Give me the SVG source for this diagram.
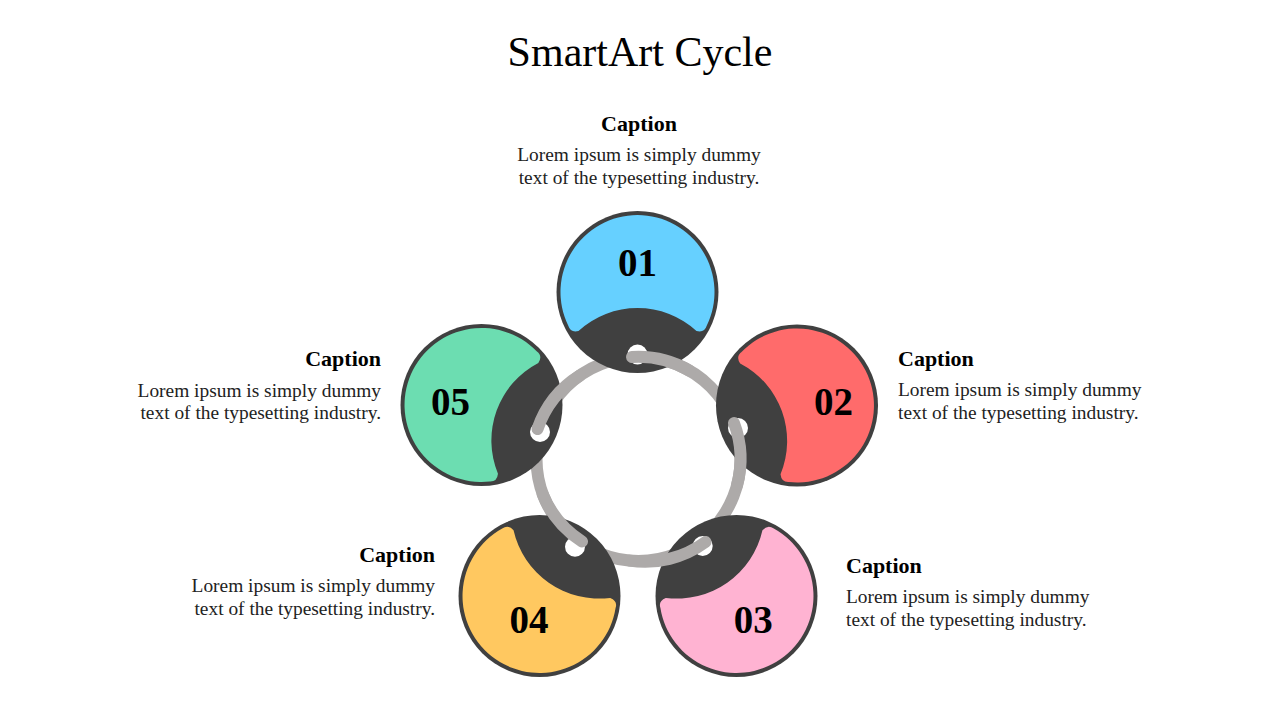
<svg xmlns="http://www.w3.org/2000/svg" width="1280" height="720" viewBox="0 0 1280 720">
<style>
.title{font-family:"Liberation Serif","Times New Roman",serif;font-size:42px;fill:#000}
.cap{font-family:"Liberation Serif","Times New Roman",serif;font-size:22px;font-weight:bold;fill:#000}
.body{font-family:"Liberation Serif","Times New Roman",serif;font-size:19.4px;fill:#222}
.num{font-family:"Liberation Serif","Times New Roman",serif;font-size:39px;font-weight:bold;fill:#000;text-anchor:middle}
.rim{fill:#404040}
.hole{fill:#fff}
.ring{fill:none;stroke:#ADAAA9;stroke-width:12;stroke-linecap:round}
</style>
<defs>
<path id="face" d="M -69.2 33.8 A 77 77 0 1 1 69.2 33.8 Q 67 41 59 39 A 87.5 87.5 0 0 0 -59 39 Q -67 41 -69.2 33.8 Z"/>
</defs>
<rect width="1280" height="720" fill="#fff"/>
<text class="title" x="640" y="66" text-anchor="middle">SmartArt Cycle</text>

<g id="connectors-under">
<circle class="ring" cx="638.5" cy="459" r="102"/>
</g>

<g id="node-01">
<circle class="rim" cx="637.5" cy="292" r="81"/>
<use href="#face" fill="#66D0FF" transform="translate(637.5 292)"/>
<circle class="hole" cx="637.5" cy="354.5" r="10"/>
<text class="num" x="637.5" y="276">01</text>
</g>
<g id="node-02">
<circle class="rim" cx="797" cy="405.5" r="81"/>
<use href="#face" fill="#FF6B6B" transform="translate(797 405.5) rotate(70)"/>
<circle class="hole" cx="738" cy="428" r="10"/>
<text class="num" x="833.5" y="415">02</text>
</g>
<g id="node-03">
<circle class="rim" cx="736.5" cy="596" r="81"/>
<use href="#face" fill="#FFB3D2" transform="translate(736.5 596) rotate(145)"/>
<circle class="hole" cx="702.7" cy="546" r="10"/>
<text class="num" x="753.3" y="633">03</text>
</g>
<g id="node-04">
<circle class="rim" cx="539.5" cy="596" r="81"/>
<use href="#face" fill="#FFC860" transform="translate(539.5 596) rotate(215)"/>
<circle class="hole" cx="575" cy="546.7" r="10"/>
<text class="num" x="529" y="633">04</text>
</g>
<g id="node-05">
<circle class="rim" cx="481.5" cy="405" r="81"/>
<use href="#face" fill="#6CDDB1" transform="translate(481.5 405) rotate(290)"/>
<circle class="hole" cx="540" cy="432" r="10"/>
<text class="num" x="450.5" y="415">05</text>
</g>

<g id="connectors-over">
<path class="ring" d="M 632 357 A 102 102 0 0 1 689.5 370.7"/>
<path class="ring" d="M 734 423 A 102 102 0 0 1 737 485.4"/>
<path class="ring" d="M 705.5 542 A 102 102 0 0 1 629.6 560.6"/>
<path class="ring" d="M 542.6 493.9 A 102 102 0 0 0 582 541.5"/>
<path class="ring" d="M 537.5 429 A 102 102 0 0 1 580 375.4"/>
</g>

<g id="caption-01">
<text class="cap" x="639" y="131" text-anchor="middle">Caption</text>
<text class="body" x="639" y="160.5" text-anchor="middle">Lorem ipsum is simply dummy</text>
<text class="body" x="639" y="184" text-anchor="middle">text of the typesetting industry.</text>
</g>
<g id="caption-02">
<text class="cap" x="898" y="366">Caption</text>
<text class="body" x="898" y="396">Lorem ipsum is simply dummy</text>
<text class="body" x="898" y="419">text of the typesetting industry.</text>
</g>
<g id="caption-03">
<text class="cap" x="846" y="573">Caption</text>
<text class="body" x="846" y="603">Lorem ipsum is simply dummy</text>
<text class="body" x="846" y="626">text of the typesetting industry.</text>
</g>
<g id="caption-04">
<text class="cap" x="435" y="562" text-anchor="end">Caption</text>
<text class="body" x="435" y="592" text-anchor="end">Lorem ipsum is simply dummy</text>
<text class="body" x="435" y="615" text-anchor="end">text of the typesetting industry.</text>
</g>
<g id="caption-05">
<text class="cap" x="381" y="366" text-anchor="end">Caption</text>
<text class="body" x="381" y="396.5" text-anchor="end">Lorem ipsum is simply dummy</text>
<text class="body" x="381" y="419" text-anchor="end">text of the typesetting industry.</text>
</g>
</svg>
